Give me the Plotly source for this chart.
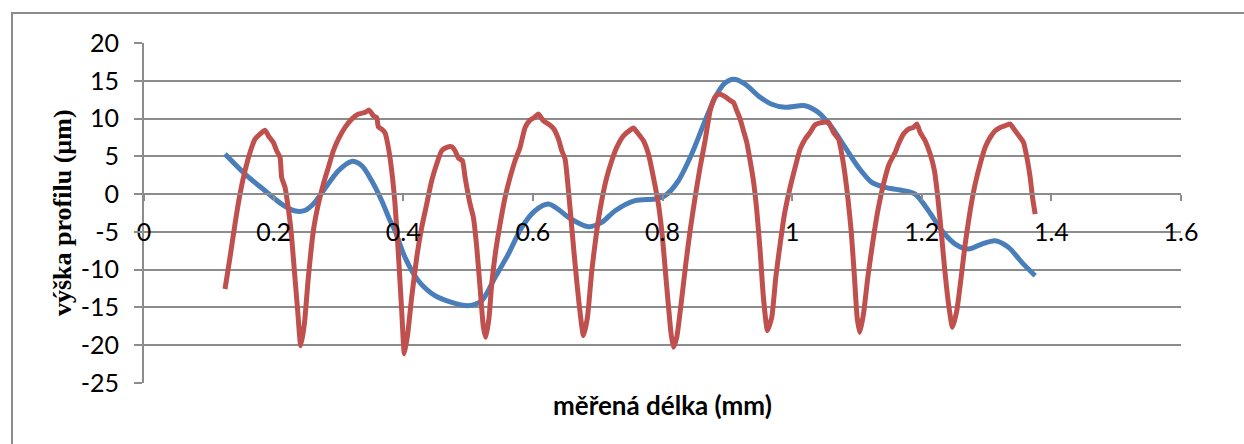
import plotly.graph_objects as go

# measured length (mm) and profile height (µm)
smooth_x = [0.125, 0.1559, 0.1867, 0.2124, 0.2320, 0.2474, 0.2613, 0.2767, 0.2999, 0.3205,
            0.3359, 0.3513, 0.3668, 0.3796, 0.3873, 0.4027, 0.4233, 0.4490, 0.4748, 0.5005,
            0.5211, 0.5417, 0.5622, 0.5828, 0.6034, 0.6240, 0.6420, 0.6549, 0.6857, 0.7063,
            0.7269, 0.7577, 0.7886, 0.8040, 0.8245, 0.8451, 0.8657, 0.8812, 0.8950, 0.9100,
            0.9275, 0.9480, 0.9686, 0.9892, 1.0201, 1.0406, 1.0612, 1.0818, 1.1024, 1.1230,
            1.1436, 1.1667, 1.1898, 1.2104, 1.2310, 1.2516, 1.2721, 1.2927, 1.3133, 1.3339,
            1.3544, 1.3750]
smooth_y = [5.3, 2.65, 0.45, -1.32, -2.2, -2.2, -1.32, 0.45, 3.1, 4.33,
            3.76, 1.77, -0.87, -3.5, -4.84, -8.37, -11.46, -13.44, -14.32, -14.76,
            -14.1, -11.02, -7.93, -4.40, -2.2, -1.32, -2.2, -3.08, -4.31, -3.74,
            -2.2, -0.87, -0.65, -0.21, 1.77, 5.30, 9.71, 12.8, 14.6, 15.2,
            14.56, 13.0, 11.9, 11.5, 11.7, 10.8, 8.83, 6.18, 3.54, 1.55,
            0.89, 0.54, 0.01, -2.2, -4.84, -6.61, -7.27, -6.61, -6.17, -7.05,
            -9.03, -10.8]

profile_x = [0.1250, 0.1327, 0.1404, 0.1481, 0.1559, 0.1636, 0.1713, 0.1790, 0.1867, 0.1919,
             0.1996, 0.2047, 0.2099, 0.2124, 0.2176, 0.2217, 0.2269, 0.2320, 0.2371, 0.2418,
             0.2474, 0.2536, 0.2613, 0.2690, 0.2767, 0.2845, 0.2922, 0.2999, 0.3102, 0.3205,
             0.3308, 0.3410, 0.3472, 0.3539, 0.3590, 0.3616, 0.3668, 0.3719, 0.3770, 0.3822,
             0.3873, 0.3925, 0.3976, 0.4017, 0.4069, 0.4130, 0.4208, 0.4285, 0.4362, 0.4439,
             0.4516, 0.4593, 0.4671, 0.4748, 0.4799, 0.4851, 0.4913, 0.4954, 0.5031, 0.5082,
             0.5134, 0.5185, 0.5237, 0.5273, 0.5324, 0.5365, 0.5427, 0.5494, 0.5571, 0.5648,
             0.5725, 0.5802, 0.5880, 0.5957, 0.6023, 0.6085, 0.6162, 0.6239, 0.6317, 0.6394,
             0.6446, 0.6497, 0.6549, 0.6600, 0.6651, 0.6713, 0.6780, 0.6842, 0.6909, 0.6986,
             0.7063, 0.7140, 0.7217, 0.7294, 0.7397, 0.7500, 0.7552, 0.7629, 0.7706, 0.7783,
             0.7860, 0.7937, 0.7999, 0.8066, 0.8133, 0.8169, 0.8220, 0.8287, 0.8359, 0.8426,
             0.8503, 0.8580, 0.8657, 0.8735, 0.8812, 0.8874, 0.8966, 0.9043, 0.9094, 0.9146,
             0.9198, 0.9249, 0.9300, 0.9352, 0.9403, 0.9455, 0.9506, 0.9557, 0.9619, 0.9686,
             0.9748, 0.9815, 0.9882, 0.9969, 1.0046, 1.0123, 1.0201, 1.0278, 1.0355, 1.0458,
             1.0561, 1.0638, 1.0715, 1.0792, 1.0859, 1.0911, 1.0962, 1.1003, 1.1044, 1.1101,
             1.1168, 1.1240, 1.1322, 1.1410, 1.1497, 1.1590, 1.1641, 1.1718, 1.1795, 1.1872,
             1.1924, 1.1975, 1.2052, 1.2130, 1.2196, 1.2248, 1.2299, 1.2351, 1.2413, 1.2474,
             1.2541, 1.2608, 1.2670, 1.2747, 1.2824, 1.2901, 1.2978, 1.3056, 1.3133, 1.3210,
             1.3287, 1.3364, 1.3441, 1.3519, 1.3570, 1.3622, 1.3673, 1.3709, 1.3750]
profile_y = [-12.56, -8.37, -3.96, 0.01, 3.1, 5.52, 7.28, 7.95, 8.47, 7.72,
             6.84, 5.74, 4.86, 2.21, 0.89, -1.32, -4.84, -10.13, -15.42, -20.06,
             -17.2, -11.0, -4.84, -1.32, 1.33, 3.54, 5.74, 7.28, 8.83, 9.93,
             10.59, 10.81, 11.12, 10.37, 10.15, 8.9, 8.6, 8.1, 6.18, 3.09,
             -1.32, -7.93, -15.42, -21.15, -18.5, -13.66, -8.37, -4.40, -1.32, 1.77,
             3.98, 5.74, 6.18, 6.27, 5.74, 4.77, 4.42, 2.21, -1.32, -3.08,
             -7.05, -12.34, -17.63, -18.95, -16.31, -11.9, -7.49, -3.96, -0.43, 2.21,
             4.42, 6.18, 8.83, 9.80, 10.15, 10.59, 9.71, 9.27, 8.7, 7.3,
             5.74, 4.64, 0.45, -4.40, -9.25, -14.54, -18.73, -16.31, -10.13, -4.84,
             -0.81, 2.21, 4.42, 6.18, 7.72, 8.47, 8.74, 7.95, 7.06, 5.30,
             2.21, -1.32, -5.72, -12.34, -18.51, -20.27, -18.95, -14.54, -9.25, -4.84,
             -0.43, 3.54, 7.06, 11.03, 12.88, 13.24, 12.9, 12.4, 12.13, 11.03,
             9.93, 8.39, 6.84, 4.42, 1.77, -2.20, -7.49, -13.66, -18.07, -16.31,
             -11.0, -6.61, -2.64, 0.89, 3.54, 5.96, 7.28, 8.17, 9.18, 9.49,
             9.49, 8.17, 7.28, 3.98, -0.43, -4.84, -11.0, -16.31, -18.29, -15.87,
             -11.0, -6.61, -2.20, 1.33, 3.98, 5.5, 6.62, 7.95, 8.61, 8.83,
             9.27, 8.17, 7.06, 5.30, 3.09, -0.43, -4.84, -9.69, -14.54, -17.63,
             -15.42, -11.0, -6.61, -2.20, 1.33, 3.98, 6.18, 7.50, 8.39, 8.83,
             9.05, 9.27, 8.39, 7.50, 6.84, 4.86, 2.21, -0.43, -2.64]

y_ticks = [20, 15, 10, 5, 0, -5, -10, -15, -20, -25]
y_tick_text = ["20", "15", "10", "5", "0", "-5", "-10", "-15", "-20", "-25"]

grid_gray = "#8c8c8c"
label_font = dict(family="Lato", size=25, color="#000000")

fig = go.Figure()
fig.add_trace(go.Scatter(
    x=smooth_x, y=smooth_y, mode="lines",
    line=dict(color="#4a7ebb", width=5, shape="spline", smoothing=0.8),
    showlegend=False,
))
fig.add_trace(go.Scatter(
    x=profile_x, y=profile_y, mode="lines",
    line=dict(color="#c0504d", width=5, shape="spline", smoothing=0.5),
    showlegend=False,
))

fig.update_layout(
    width=1244, height=444,
    margin=dict(l=144, r=63, t=43, b=61),
    paper_bgcolor="#ffffff", plot_bgcolor="#ffffff",
    font=label_font,
    xaxis=dict(
        range=[0, 1.6], dtick=0.2, tick0=0,
        showgrid=False, zeroline=False,
        showline=True, linecolor=grid_gray, linewidth=2,
        ticks="outside", ticklen=6, tickwidth=2, tickcolor=grid_gray,
        anchor="free", position=(383 - 194) / 340,
        ticklabelstandoff=10,
        tickfont=label_font,
    ),
    yaxis=dict(
        range=[-25, 20], tickvals=y_ticks, ticktext=y_tick_text,
        showgrid=True, gridcolor=grid_gray, gridwidth=1.6,
        zeroline=False,
        showline=True, linecolor=grid_gray, linewidth=2,
        ticks="outside", ticklen=8, tickwidth=2, tickcolor=grid_gray,
        ticklabelstandoff=10,
        tickfont=label_font,
    ),
    shapes=[dict(
        type="rect", xref="paper", yref="paper",
        x0=(12 - 144) / 1037, x1=(1260 - 144) / 1037,
        y0=(383 - 460) / 340, y1=(383 - 13) / 340,
        line=dict(color=grid_gray, width=2), fillcolor="rgba(0,0,0,0)",
        layer="below",
    )],
    annotations=[
        dict(text="<b>měřená délka (mm)</b>", xref="paper", yref="paper",
             x=0.5, y=(383 - 405) / 340, showarrow=False,
             xanchor="center", yanchor="middle",
             font=dict(family="Lato", size=26, color="#000000")),
        dict(text="<b>výška profilu (µm)</b>", xref="paper", yref="paper",
             x=(62 - 144) / 1037, y=0.5, showarrow=False, textangle=-90,
             xanchor="center", yanchor="middle",
             font=dict(family="Liberation Serif", size=26, color="#000000")),
    ],
)

fig.write_html("out.html")
